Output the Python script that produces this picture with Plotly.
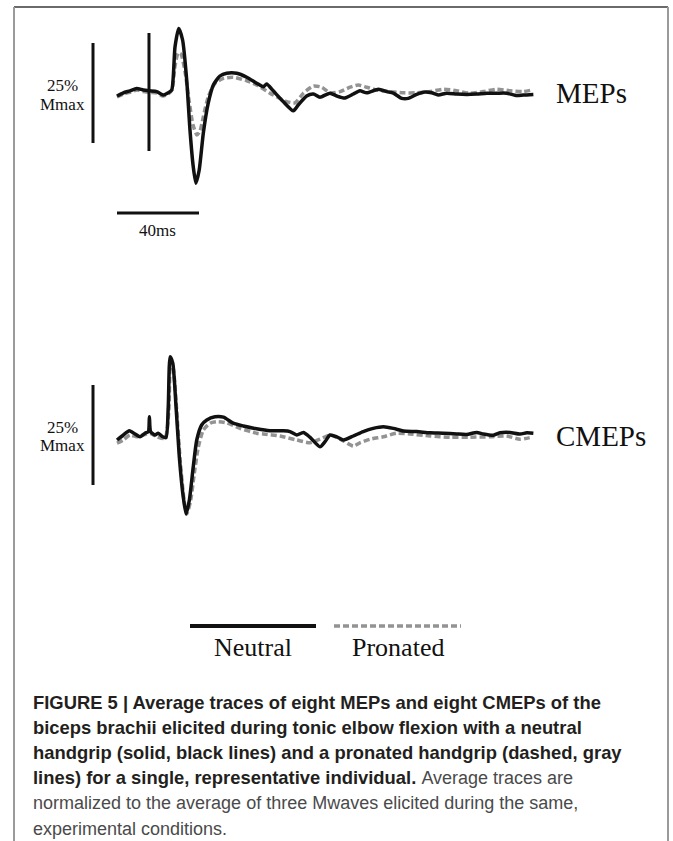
import plotly.graph_objects as go

W, H = 673, 841

# ---------------- data (time in ms from sweep start, amplitude in % Mmax) -------------
mep_neutral_t = [0.0, 3.1, 6.3, 9.6, 12.8, 15.6, 19.4, 22.6, 25.0, 26.7, 28.3, 30.1, 32.0, 34.0, 35.6,
                 37.2, 38.5, 40.1, 42.1, 44.5, 47.0, 50.2, 53.5, 58.4, 63.3, 68.1, 71.4, 73.0, 76.2, 81.1,
                 86.0, 88.4, 92.5, 95.8, 99.0, 103.9, 107.2, 111.2, 115.3, 118.5, 121.8, 127.5, 131.6, 134.8,
                 138.9, 142.1, 146.2, 150.2, 153.5, 156.7, 160.8, 165.7, 170.6, 175.5, 180.4, 185.2, 190.1,
                 195.0, 198.2, 203.1]
mep_neutral_v = [0.0, 0.8, 1.3, 1.9, 1.5, 1.3, 1.1, 0.25, 0.8, 1.5, 12.3, 16.9, 14.0, 4.0, -8.5,
                 -17.7, -21.8, -18.5, -9.3, -1.8, 2.75, 5.0, 5.7, 5.7, 4.7, 3.2, 2.3, 3.0, 1.3, -1.4,
                 -3.7, -2.25, 0.0, 0.5, -0.3, 0.7, 0.0, -0.5, 0.5, 1.3, 0.8, 1.7, 1.1, 0.7,
                 -0.6, -0.6, 0.4, 1.0, 0.8, 0.25, 0.7, 0.5, 0.4, 0.5, 0.7, 0.7, 0.7,
                 0.1, 0.25, 0.4]

# stimulus artifact on the neutral MEP sweep
mep_artifact_t = [15.6, 15.6]
mep_artifact_v = [15.75, -13.75]

mep_pronated_t = [0.0, 3.4, 6.8, 9.8, 12.7, 16.1, 19.5, 22.4, 24.9, 26.8, 28.3, 29.8, 31.2, 33.2, 35.1,
                  37.1, 39.0, 40.5, 42.1, 44.5, 47.8, 51.9, 56.7, 63.3, 68.1, 76.2, 82.8, 86.8, 90.9, 95.8,
                  99.9, 103.9, 108.8, 113.7, 117.7, 121.8, 126.7, 133.2, 139.7, 146.2, 152.7, 159.2, 165.7,
                  172.2, 178.7, 185.2, 191.7, 198.2, 202.3]
mep_pronated_v = [-0.25, 0.5, 1.0, 1.5, 1.1, 0.9, 0.75, 0.0, 0.5, 1.5, 7.5, 10.75, 10.5, 6.0, -1.0,
                  -7.25, -9.75, -8.75, -5.2, -0.2, 3.2, 4.4, 4.7, 3.8, 2.75, 0.25, -1.4, -1.7, 0.7, 2.5,
                  2.2, 0.8, 1.1, 2.2, 2.75, 2.2, 1.5, 1.1, 0.8, 0.8, 1.1, 1.7, 1.3,
                  0.7, 1.1, 1.7, 1.3, 1.1, 1.5]

cmep_neutral_t = [0.0, 3.1, 6.0, 8.8, 11.2, 13.7, 15.3, 15.8, 16.4, 18.5, 20.1, 22.3, 23.9, 25.0, 25.9,
                  27.2, 28.8, 30.4, 32.3, 33.7, 35.3, 37.2, 38.9, 41.3, 43.8, 47.8, 51.9, 56.7, 61.6, 68.1,
                  74.6, 81.1, 84.4, 87.7, 90.9, 94.1, 99.0, 101.5, 103.9, 107.2, 110.4, 115.3, 120.1, 125.0,
                  129.9, 134.8, 139.7, 146.2, 152.7, 159.2, 165.7, 170.6, 175.5, 178.7, 183.6, 186.8, 191.7,
                  196.6, 199.9, 203.1]
cmep_neutral_v = [0.0, 1.25, 2.3, 1.5, 0.8, 1.7, 2.1, 5.8, 2.1, 1.25, 1.7, 0.8, 0.6, 8.3, 20.8,
                  19.2, 8.3, -4.2, -14.2, -18.5, -15.0, -6.7, 0.0, 3.75, 5.0, 5.8, 5.7, 4.2, 3.5, 2.8,
                  2.3, 2.3, 2.1, 1.25, 1.9, 0.7, -1.7, -0.4, 1.25, 0.8, 0.0, 1.0, 2.1, 2.9,
                  3.3, 2.9, 2.25, 2.1, 1.8, 1.7, 1.5, 1.4, 1.9, 1.5, 1.2, 1.8, 1.9,
                  1.5, 1.8, 1.7]

cmep_pronated_t = [0.0, 3.1, 6.3, 9.6, 12.8, 16.1, 19.4, 23.4, 25.3, 26.1, 27.4, 29.1, 30.8, 32.7, 34.0,
                   35.8, 37.8, 39.7, 42.1, 45.4, 48.6, 53.5, 60.0, 68.1, 71.4, 79.5, 87.7, 94.1, 99.0, 103.9,
                   110.4, 115.3, 118.5, 123.4, 129.9, 136.4, 142.9, 152.7, 162.4, 172.2, 181.9, 190.1, 196.6,
                   202.3]
cmep_pronated_v = [-0.8, 0.0, 1.25, 0.8, 1.25, 1.7, 0.8, 0.4, 7.5, 19.5, 18.0, 7.5, -5.0, -15.0, -18.5,
                   -15.5, -8.0, -1.7, 2.5, 4.2, 4.6, 4.3, 2.9, 1.7, 1.5, 1.0, 0.0, -0.7, 0.2, 1.25,
                   -0.2, -1.5, -0.7, 0.2, 0.8, 1.7, 1.5, 1.0, 0.7, 0.7, 0.8, 1.0, 0.2,
                   0.7]

SCALE_MS = 40      # horizontal calibration bar
SCALE_PCT = 25     # vertical calibration bar (% Mmax)

REG = "<span style='font-weight:normal;font-size:18px;fill:#4a4a4a'>{}</span>"
caption_lines = [
    "<b>FIGURE 5 | Average traces of eight MEPs and eight CMEPs of the</b>",
    "<b>biceps brachii elicited during tonic elbow flexion with a neutral</b>",
    "<b>handgrip (solid, black lines) and a pronated handgrip (dashed, gray</b>",
    "<b>lines) for a single, representative individual.</b> " + REG.format("Average traces are"),
    REG.format("normalized to the average of three Mwaves elicited during the same,"),
    REG.format("experimental conditions."),
]

# ---------------- styling -------------
BLACK = "#111111"
GRAY = "#939393"
SERIF = "Liberation Serif, Times New Roman, serif"
SANS = "Liberation Sans, Arial, sans-serif"
LW = 3.5
DASH = "6px,3px"


def px(x):
    return x / W


def py(y):
    return 1 - y / H


fig = go.Figure()

# MEP panel (axes x / y)
fig.add_trace(go.Scatter(x=mep_pronated_t, y=mep_pronated_v, mode="lines", name="Pronated",
                         line=dict(color=GRAY, width=LW, dash=DASH, shape="spline", smoothing=0.6),
                         xaxis="x", yaxis="y", showlegend=False))
fig.add_trace(go.Scatter(x=mep_neutral_t, y=mep_neutral_v, mode="lines", name="Neutral",
                         line=dict(color=BLACK, width=LW, shape="spline", smoothing=0.6),
                         xaxis="x", yaxis="y", showlegend=False))
fig.add_trace(go.Scatter(x=mep_artifact_t, y=mep_artifact_v, mode="lines", name="Stimulus",
                         line=dict(color=BLACK, width=3),
                         xaxis="x", yaxis="y", showlegend=False))

# CMEP panel (axes x2 / y2)
fig.add_trace(go.Scatter(x=cmep_pronated_t, y=cmep_pronated_v, mode="lines", name="Pronated",
                         line=dict(color=GRAY, width=LW, dash=DASH, shape="spline", smoothing=0.6),
                         xaxis="x2", yaxis="y2", showlegend=False))
fig.add_trace(go.Scatter(x=cmep_neutral_t, y=cmep_neutral_v, mode="lines", name="Neutral",
                         line=dict(color=BLACK, width=LW, shape="spline", smoothing=0.6),
                         xaxis="x2", yaxis="y2", showlegend=False))

ms_per_px = 40 / 82.0
x_range = [-117 * ms_per_px, (W - 117) * ms_per_px]
pct_per_px = 0.25

mep_dom = [1 - 300 / H, 1]
mep_range = [(96 - 300) * pct_per_px, 96 * pct_per_px]
cmep_dom = [1 - 560 / H, 1 - 300 / H]
cmep_range = [(440 - 560) * pct_per_px, (440 - 300) * pct_per_px]

ax = dict(visible=False, showgrid=False, zeroline=False, fixedrange=True)
fig.update_layout(
    width=W, height=H,
    margin=dict(l=0, r=0, t=0, b=0),
    paper_bgcolor="white", plot_bgcolor="white",
    xaxis=dict(ax, domain=[0, 1], range=x_range, anchor="y"),
    yaxis=dict(ax, domain=mep_dom, range=mep_range, anchor="x"),
    xaxis2=dict(ax, domain=[0, 1], range=x_range, anchor="y2"),
    yaxis2=dict(ax, domain=cmep_dom, range=cmep_range, anchor="x2"),
)

shapes = []
# calibration bars (data coordinates)
bar_x = (93 - 117) * ms_per_px
shapes.append(dict(type="line", xref="x", yref="y", x0=bar_x, x1=bar_x,
                   y0=13.25, y1=13.25 - SCALE_PCT, line=dict(color=BLACK, width=3)))
shapes.append(dict(type="line", xref="x2", yref="y2", x0=bar_x, x1=bar_x,
                   y0=13.75, y1=13.75 - SCALE_PCT, line=dict(color=BLACK, width=3)))
shapes.append(dict(type="line", xref="x", yref="y", x0=0, x1=SCALE_MS,
                   y0=-29.25, y1=-29.25, line=dict(color=BLACK, width=3)))

# legend samples
shapes.append(dict(type="line", xref="paper", yref="paper", x0=px(190), x1=px(316),
                   y0=py(626), y1=py(626), line=dict(color=BLACK, width=4)))
shapes.append(dict(type="line", xref="paper", yref="paper", x0=px(334), x1=px(461),
                   y0=py(626), y1=py(626), line=dict(color=GRAY, width=3.5, dash=DASH)))

# frame
shapes.append(dict(type="line", xref="paper", yref="paper", x0=px(14), x1=px(668),
                   y0=py(7), y1=py(7), line=dict(color="#3a3a3a", width=1.5)))
shapes.append(dict(type="line", xref="paper", yref="paper", x0=px(14), x1=px(14),
                   y0=py(7), y1=py(H + 2), line=dict(color="#9a9a9a", width=2)))
shapes.append(dict(type="line", xref="paper", yref="paper", x0=px(668), x1=px(668),
                   y0=py(7), y1=py(H + 2), line=dict(color="#9a9a9a", width=2)))

annotations = []


def label(text, x, y, size, family=SERIF, color=BLACK, xanchor="center"):
    annotations.append(dict(text=text, x=px(x), y=py(y), xref="paper", yref="paper",
                            xanchor=xanchor, yanchor="middle", showarrow=False,
                            font=dict(family=family, size=size, color=color)))


label("25%", 62, 86, 17)
label("Mmax", 62, 104, 17)
label("25%", 62, 427, 17)
label("Mmax", 62, 445, 17)
label("40ms", 157, 230, 17)
label("MEPs", 591, 93, 29)
label("CMEPs", 601, 436, 29)
label("Neutral", 253, 647, 26)
label("Pronated", 398, 647, 26)

for i, line in enumerate(caption_lines):
    label(line, 31, 702 + 25.3 * i, 18.4, family=SANS, color="#231f20", xanchor="left")

fig.update_layout(shapes=shapes, annotations=annotations)
fig.write_html("out.html")
